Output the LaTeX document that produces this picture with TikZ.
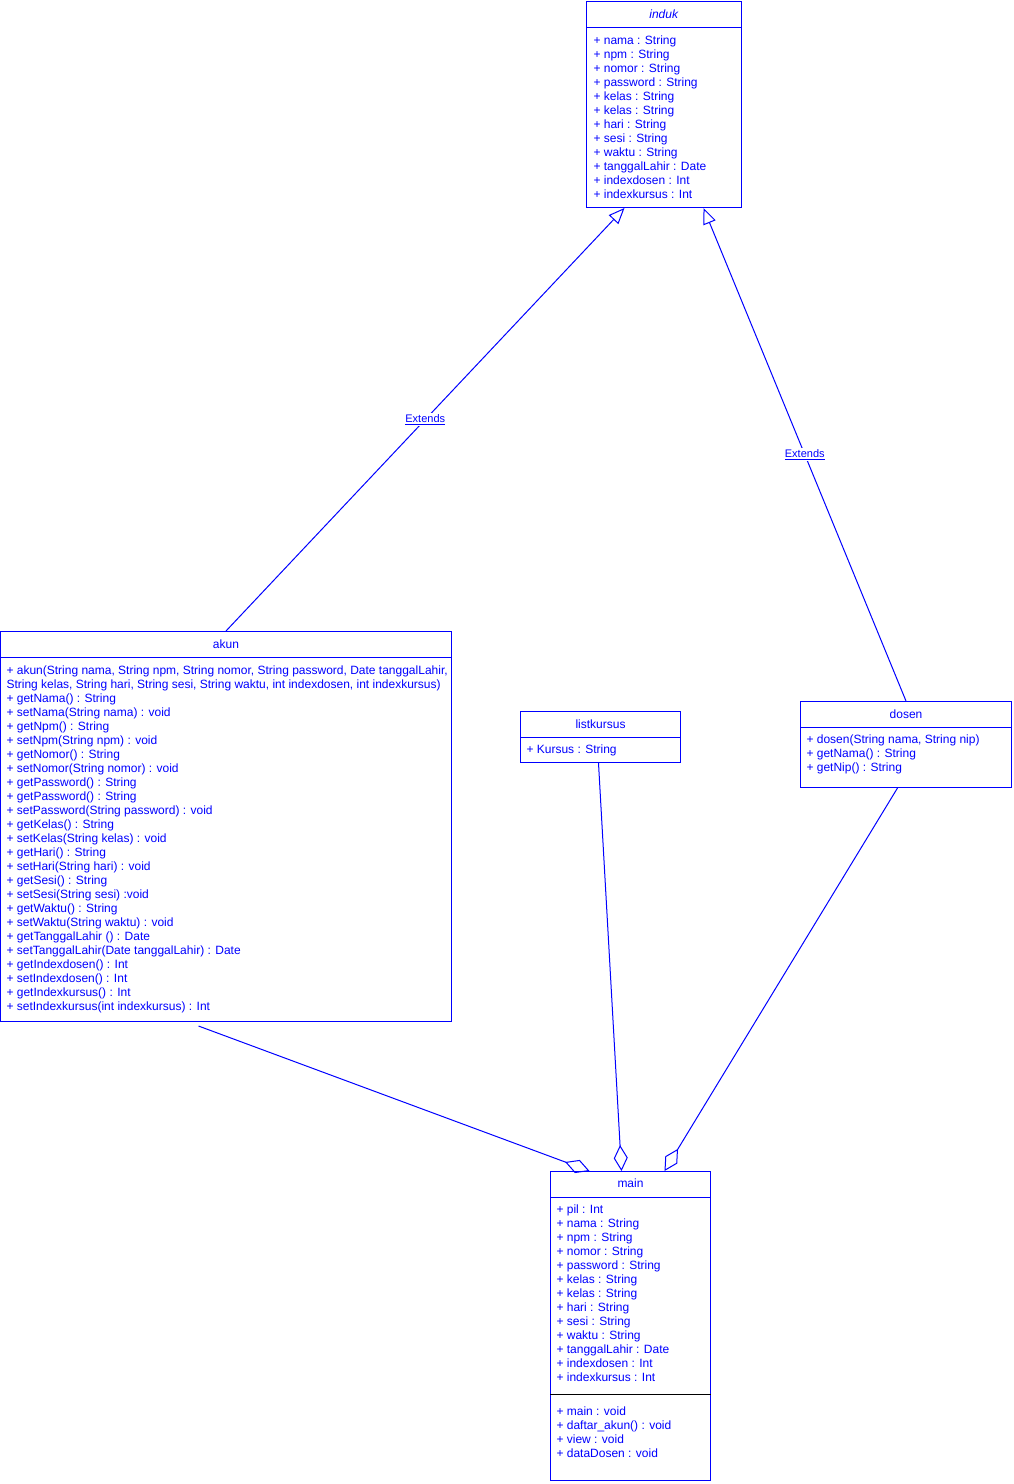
\documentclass[tikz,border=0pt]{standalone}
\usepackage{fontspec}
\setmainfont{Liberation Sans}
\usetikzlibrary{arrows.meta,positioning}

\begin{document}
\begin{tikzpicture}[
    x=1pt,y=-1pt,line width=1pt,
    font=\fontsize{12}{14}\selectfont,
    every node/.style={text=blue},
    classbox/.style={draw=blue,anchor=north west,inner sep=0pt},
    classtitle/.style={inner sep=0pt},
    members/.style={align=left,anchor=north west,inner sep=0pt},
    extends/.style={draw=blue,-{Triangle[open,length=16pt,width=13pt]}},
    aggr/.style={draw=blue,-{Diamond[open,length=26pt,width=14pt]}},
    extlabel/.style={fill=white,inner sep=1pt,font=\fontsize{11}{13}\selectfont}
  ]
  \useasboundingbox (0,0) rectangle (1013,1484);

  % induk
  \node[classbox,minimum width=155pt,minimum height=206pt] (induk) at (586,1) {};
  \draw[blue] ([yshift=-26pt]induk.north west) -- ([yshift=-26pt]induk.north east);
  \node[classtitle] at ([yshift=-13pt]induk.north) {\textit{induk}};
  \node[members] at ([xshift=7pt,yshift=-34.5pt]induk.north west) {%
    + nama : String\\ + npm : String\\ + nomor : String\\ + password : String\\
    + kelas : String\\ + kelas : String\\ + hari : String\\ + sesi : String\\
    + waktu : String\\ + tanggalLahir : Date\\ + indexdosen : Int\\ + indexkursus : Int};

  % akun
  \node[classbox,minimum width=451pt,minimum height=390pt] (akun) at (0,631) {};
  \draw[blue] ([yshift=-26pt]akun.north west) -- ([yshift=-26pt]akun.north east);
  \node[classtitle] at ([yshift=-13pt]akun.north) {akun};
  \node[members] at ([xshift=6pt,yshift=-34.5pt]akun.north west) {%
    + akun(String nama, String npm, String nomor, String password, Date tanggalLahir,\\
    String kelas, String hari, String sesi, String waktu, int indexdosen, int indexkursus)\\
    + getNama() : String\\ + setNama(String nama) : void\\
    + getNpm() : String\\ + setNpm(String npm) : void\\
    + getNomor() : String\\ + setNomor(String nomor) : void\\
    + getPassword() : String\\ + getPassword() : String\\
    + setPassword(String password) : void\\
    + getKelas() : String\\ + setKelas(String kelas) : void\\
    + getHari() : String\\ + setHari(String hari) : void\\
    + getSesi() : String\\ + setSesi(String sesi) :void\\
    + getWaktu() : String\\ + setWaktu(String waktu) : void\\
    + getTanggalLahir () : Date\\ + setTanggalLahir(Date tanggalLahir) : Date\\
    + getIndexdosen() : Int\\ + setIndexdosen() : Int\\
    + getIndexkursus() : Int\\ + setIndexkursus(int indexkursus) : Int};

  % listkursus
  \node[classbox,minimum width=160pt,minimum height=51pt] (list) at (520,711) {};
  \draw[blue] ([yshift=-26pt]list.north west) -- ([yshift=-26pt]list.north east);
  \node[classtitle] at ([yshift=-13pt]list.north) {listkursus};
  \node[members] at ([xshift=6pt,yshift=-33.5pt]list.north west) {+ Kursus : String};

  % dosen
  \node[classbox,minimum width=211pt,minimum height=86pt] (dosen) at (800,701) {};
  \draw[blue] ([yshift=-26pt]dosen.north west) -- ([yshift=-26pt]dosen.north east);
  \node[classtitle] at ([yshift=-13pt]dosen.north) {dosen};
  \node[members] at ([xshift=6pt,yshift=-33.5pt]dosen.north west) {%
    + dosen(String nama, String nip)\\ + getNama() : String\\ + getNip() : String};

  % main
  \node[classbox,minimum width=160pt,minimum height=309pt] (main) at (550,1171) {};
  \draw[blue] ([yshift=-26pt]main.north west) -- ([yshift=-26pt]main.north east);
  \draw[black] ([yshift=-223pt]main.north west) -- ([yshift=-223pt]main.north east);
  \node[classtitle] at ([yshift=-12pt]main.north) {main};
  \node[members] at ([xshift=6pt,yshift=-33.5pt]main.north west) {%
    + pil : Int\\ + nama : String\\ + npm : String\\ + nomor : String\\
    + password : String\\ + kelas : String\\ + kelas : String\\ + hari : String\\
    + sesi : String\\ + waktu : String\\ + tanggalLahir : Date\\
    + indexdosen : Int\\ + indexkursus : Int};
  \node[members] at ([xshift=6pt,yshift=-235.5pt]main.north west) {%
    + main : void\\ + daftar\_akun() : void\\ + view : void\\ + dataDosen : void};

  % connectors
  \draw[extends] (akun.north) -- node[extlabel] {\underline{Extends}} ([xshift=-39.5pt]induk.south);
  \draw[extends] (dosen.north) -- node[extlabel] {\underline{Extends}} ([xshift=39.5pt]induk.south);
  \draw[aggr] ([xshift=-27.5pt,yshift=-4pt]akun.south) -- ([xshift=-41pt]main.north);
  \draw[aggr] ([xshift=-2pt]list.south) -- ([xshift=-9pt]main.north);
  \draw[aggr] ([xshift=-8.5pt]dosen.south) -- ([xshift=34pt]main.north);
\end{tikzpicture}
\end{document}
